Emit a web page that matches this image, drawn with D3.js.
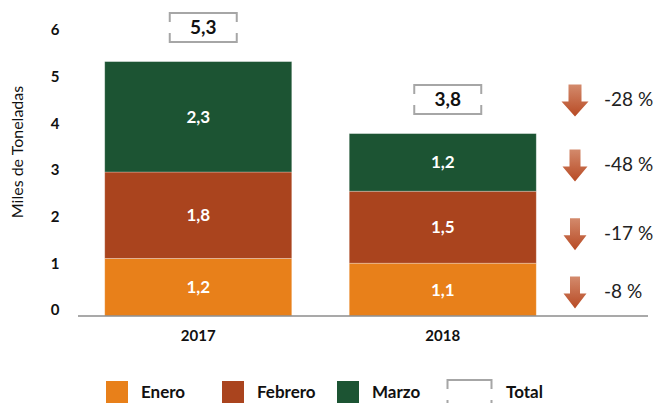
<!DOCTYPE html>
<meta charset="utf-8">
<title>Miles de Toneladas</title>
<style>
  body { margin: 0; background: #fff; }
  text { font-family: Lato, "Open Sans", sans-serif; }
  .tick-label { font-size: 15px; font-weight: bold; fill: #111; }
  .year-label { font-size: 15px; font-weight: bold; fill: #111; }
  .seg-label { font-size: 17px; font-weight: bold; fill: #fff; }
  .total-label { font-size: 19px; font-weight: bold; fill: #111; }
  .pct-label { font-size: 19px; fill: #222; }
  .legend-label { font-size: 17px; font-weight: bold; fill: #111; }
  .bracket { fill: none; stroke: #a6a6a6; stroke-width: 2px; }
</style>
<body>
<svg width="654" height="403"></svg>
<script src="https://d3js.org/d3.v7.min.js"></script>
<script>

  // data
  var years = ["2017", "2018"];
  var months = ["Enero", "Febrero", "Marzo"];
  var enero = [1.2, 1.1];
  var febrero = [1.8, 1.5];
  var marzo = [2.3, 1.2];
  var totals = [5.3, 3.8];
  var yTicks = [0, 1, 2, 3, 4, 5, 6];
  var pctLabels = ["-8 %", "-17 %", "-48 %", "-28 %"];

  var colors = ["#e8801a", "#aa441e", "#1c5433"];

  var svg = d3.select("svg");

  var x = d3.scaleBand()
    .domain(years)
    .range([76, 565])
    .paddingInner(0.235)
    .paddingOuter(0.1175);

  var y = d3.scaleLinear()
    .domain([0, 6])
    .range([316, 28]);

  // excel puts the tick labels a little off the gridlines
  var yLabel = d3.scaleLinear()
    .domain([0, 6])
    .range([310, 30]);

  var table = years.map(function (yr, i) {
    return { year: yr, Enero: enero[i], Febrero: febrero[i], Marzo: marzo[i], total: totals[i] };
  });

  var stack = d3.stack().keys(months)(table);

  var defs = svg.append("defs");
  var grad = defs.append("linearGradient")
    .attr("id", "arrowGrad")
    .attr("x1", 0).attr("y1", 0).attr("x2", 0).attr("y2", 1);
  grad.append("stop").attr("offset", "0%").attr("stop-color", "#d38a6c");
  grad.append("stop").attr("offset", "100%").attr("stop-color", "#b84a24");

  // y tick labels
  svg.selectAll(".tick-label")
    .data(yTicks)
    .enter().append("text")
    .attr("class", "tick-label")
    .attr("x", 55)
    .attr("y", d => yLabel(d))
    .attr("dy", "0.35em")
    .attr("text-anchor", "middle")
    .text(d => d);

  svg.append("text")
    .attr("transform", "translate(23,152) rotate(-90)")
    .attr("text-anchor", "middle")
    .style("font-size", "16px")
    .style("fill", "#111")
    .text("Miles de Toneladas");

  // bars
  var layer = svg.selectAll(".layer")
    .data(stack)
    .enter().append("g")
    .attr("class", "layer")
    .attr("fill", (d, i) => colors[i]);

  layer.selectAll("rect")
    .data(d => d)
    .enter().append("rect")
    .attr("x", d => x(d.data.year))
    .attr("y", d => y(d[1]))
    .attr("width", x.bandwidth())
    .attr("height", d => y(d[0]) - y(d[1]))
    .attr("stroke", "rgba(255,255,255,0.35)")
    .attr("stroke-width", 0.8);

  layer.selectAll(".seg-label")
    .data(d => d.map(function (p) { return { p: p, v: p.data[d.key] }; }))
    .enter().append("text")
    .attr("class", "seg-label")
    .attr("x", d => x(d.p.data.year) + x.bandwidth() / 2)
    .attr("y", d => y((d.p[0] + d.p[1]) / 2))
    .attr("dy", "0.35em")
    .attr("text-anchor", "middle")
    .text(d => d3.format(".1f")(d.v).replace(".", ","));

  // baseline
  svg.append("line")
    .attr("x1", 78).attr("x2", 648)
    .attr("y1", y(0)).attr("y2", y(0))
    .attr("stroke", "#8c8c8c")
    .attr("stroke-width", 1.5);

  // year labels
  svg.selectAll(".year-label")
    .data(years)
    .enter().append("text")
    .attr("class", "year-label")
    .attr("x", d => x(d) + x.bandwidth() / 2)
    .attr("y", 336)
    .attr("dy", "0.35em")
    .attr("text-anchor", "middle")
    .text(d => d);

  // bracket box used for the totals
  function bracket(cx, cy, w, h) {
    var l = cx - w / 2, r = cx + w / 2, t = cy - h / 2, b = cy + h / 2, tick = 9;
    return "M" + l + "," + (t + tick) + "V" + t + "H" + r + "V" + (t + tick) +
      "M" + l + "," + (b - tick) + "V" + b + "H" + r + "V" + (b - tick);
  }

  var totalG = svg.selectAll(".total")
    .data(table)
    .enter().append("g")
    .attr("class", "total");

  totalG.append("path")
    .attr("class", "bracket")
    .attr("d", d => bracket(x(d.year) + x.bandwidth() / 2 + 5, y(d.total) - 34, 67, 29));

  totalG.append("text")
    .attr("class", "total-label")
    .attr("x", d => x(d.year) + x.bandwidth() / 2 + 5)
    .attr("y", d => y(d.total) - 34)
    .attr("dy", "0.35em")
    .attr("text-anchor", "middle")
    .text(d => d3.format(".1f")(d.total).replace(".", ","));

  // change arrows, next to the 2018 segments and total
  var last = table[1];
  var arrowY = [
    y(last.Enero / 2) + 3,
    y(last.Enero + last.Febrero / 2) + 7,
    y(last.Enero + last.Febrero + last.Marzo / 2) + 3,
    y(last.total) - 33
  ];
  var arrowW = [[23, 10], [23, 10], [25, 11], [27, 13]];

  function arrow(cx, cy, hw, sw) {
    var t = cy - 16, b = cy + 16, hy = cy + 1;
    return "M" + (cx - sw / 2) + "," + t + "H" + (cx + sw / 2) + "V" + hy +
      "H" + (cx + hw / 2) + "L" + cx + "," + b + "L" + (cx - hw / 2) + "," + hy +
      "H" + (cx - sw / 2) + "Z";
  }

  svg.selectAll(".arrow")
    .data(arrowY)
    .enter().append("path")
    .attr("class", "arrow")
    .attr("fill", "url(#arrowGrad)")
    .attr("d", (d, i) => arrow(575, d, arrowW[i][0], arrowW[i][1]));

  svg.selectAll(".pct-label")
    .data(pctLabels)
    .enter().append("text")
    .attr("class", "pct-label")
    .attr("x", 604)
    .attr("y", (d, i) => arrowY[i] - 1)
    .attr("dy", "0.35em")
    .text(d => d);

  // legend
  var legendX = [106, 222, 337];
  var legend = svg.selectAll(".legend")
    .data(months)
    .enter().append("g")
    .attr("class", "legend");

  legend.append("rect")
    .attr("x", (d, i) => legendX[i])
    .attr("y", 381)
    .attr("width", 22)
    .attr("height", 22)
    .attr("fill", (d, i) => colors[i]);

  legend.append("text")
    .attr("class", "legend-label")
    .attr("x", (d, i) => legendX[i] + 35)
    .attr("y", 392)
    .attr("dy", "0.35em")
    .text(d => d);

  svg.append("path")
    .attr("class", "bracket")
    .attr("d", bracket(469.5, 394.5, 44, 29));

  svg.append("text")
    .attr("class", "legend-label")
    .attr("x", 506)
    .attr("y", 392)
    .attr("dy", "0.35em")
    .text("Total");

</script>
</body>
